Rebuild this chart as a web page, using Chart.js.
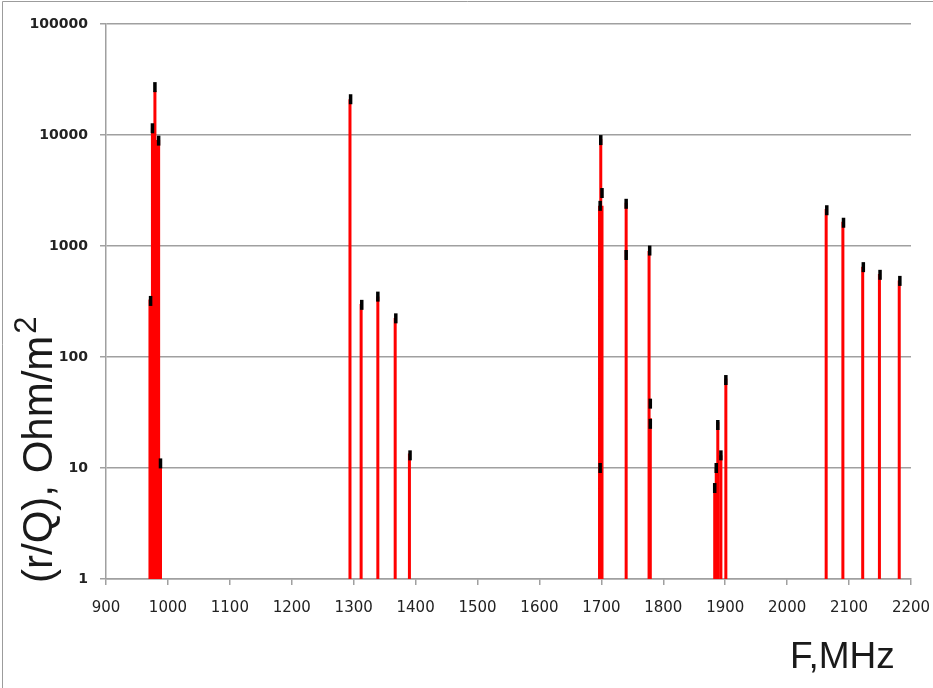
<!DOCTYPE html>
<html>
<head>
<meta charset="utf-8">
<title>r/Q spectrum</title>
<script src="https://cdn.jsdelivr.net/npm/chart.js@4.4.1/dist/chart.umd.min.js"></script>
<style>
  html, body { margin: 0; padding: 0; background: #fff; }
  #wrap { position: relative; width: 933px; height: 688px; }
</style>
</head>
<body>
<div id="wrap"><canvas id="rq-chart" width="933" height="688"></canvas></div>
<script>
// calculated modes (red impulses), MHz and Ohm/m^2
const modeFreq = [971, 975, 979, 982, 985, 988,
  1294, 1312, 1339, 1367, 1390,
  1697, 1699, 1701, 1740, 1777, 1779,
  1883, 1885.5, 1888, 1893, 1901,
  2063, 2090, 2122, 2149, 2181];
const modeRQ = [330, 11500, 25000, 9000, 9000, 11,
  21000, 300, 350, 225, 13.5,
  2300, 9200, 2300, 2450, 900, 28,
  6.5, 10, 26, 13, 64,
  2150, 1650, 650, 560, 490];

// second set of values (black marks)
const markFreq = [972, 975, 979, 985, 988,
  1295, 1313, 1339, 1368, 1391,
  1699, 1701, 1698, 1698,
  1740, 1740, 1778, 1779, 1779,
  1883, 1885.5, 1888, 1893, 1901,
  2064, 2091, 2123, 2150, 2182];
const markRQ = [320, 11500, 27000, 8900, 11,
  21000, 295, 350, 223, 13,
  9000, 3000, 2300, 10,
  2400, 830, 910, 38, 25,
  6.6, 10, 24.4, 13, 62,
  2100, 1620, 645, 550, 485];

const freqTicks = [900, 1000, 1100, 1200, 1300, 1400, 1500, 1600, 1700, 1800, 1900, 2000, 2100, 2200];
const rqTicks = [1, 10, 100, 1000, 10000, 100000];

// every mode is a vertical stroke from the floor up to its value, null breaks the line
const impulses = [];
modeFreq.forEach((f, i) => {
  impulses.push({ x: f, y: 1 }, { x: f, y: modeRQ[i] }, { x: f, y: null });
});
const marks = markFreq.map((f, i) => ({ x: f, y: markRQ[i] }));

const gridGray = '#a0a0a0';

// frame, axis titles and the raised "2"
const decorations = {
  id: 'decorations',
  beforeDraw(chart) {
    const ctx = chart.ctx;
    ctx.save();
    ctx.fillStyle = '#fff';
    ctx.fillRect(0, 0, chart.width, chart.height);
    ctx.strokeStyle = '#9c9c9c';
    ctx.lineWidth = 1;
    ctx.beginPath();
    ctx.moveTo(2.5, chart.height);
    ctx.lineTo(2.5, 1.5);
    ctx.lineTo(chart.width, 1.5);
    ctx.stroke();
    ctx.restore();
  },
  afterDraw(chart) {
    const ctx = chart.ctx;
    ctx.save();
    ctx.fillStyle = '#1a1a1a';
    ctx.textAlign = 'left';
    ctx.textBaseline = 'alphabetic';
    ctx.font = '37px "Liberation Sans", Arial, sans-serif';
    ctx.fillText('F,MHz', 790, 668);

    ctx.translate(52, 583);
    ctx.rotate(-Math.PI / 2);
    ctx.font = '42px "Liberation Sans", Arial, sans-serif';
    const label = '(r/Q), Ohm/m';
    ctx.fillText(label, 0, 0);
    const w = ctx.measureText(label).width;
    ctx.font = '31px "Liberation Sans", Arial, sans-serif';
    ctx.fillText('2', w + 2, -16);
    ctx.restore();
  }
};

new Chart(document.getElementById('rq-chart').getContext('2d'), {
  data: {
    datasets: [
      {
        type: 'scatter',
        data: marks,
        order: 0,
        pointStyle: 'line',
        rotation: 90,
        pointRadius: 5,
        borderWidth: 3.5,
        borderColor: '#000',
        backgroundColor: '#000',
        showLine: false
      },
      {
        type: 'line',
        data: impulses,
        order: 1,
        borderColor: '#ff0000',
        borderWidth: 3,
        borderCapStyle: 'butt',
        pointRadius: 0,
        spanGaps: false,
        tension: 0,
        fill: false
      }
    ]
  },
  options: {
    responsive: false,
    animation: false,
    devicePixelRatio: 1,
    layout: { padding: { left: 0, top: 24, right: 22, bottom: 0 } },
    plugins: { legend: { display: false }, tooltip: { enabled: false } },
    scales: {
      x: {
        type: 'linear',
        min: 900,
        max: 2200,
        afterBuildTicks: s => { s.ticks = freqTicks.map(v => ({ value: v })); },
        afterFit: s => { s.height = 109; s.paddingLeft = 0; s.paddingRight = 0; },
        ticks: {
          callback: v => String(v),
          autoSkip: false,
          maxRotation: 0,
          padding: 14,
          color: '#222',
          font: { family: '"DejaVu Sans", Verdana, sans-serif', size: 15 }
        },
        grid: { drawOnChartArea: false, drawTicks: true, tickLength: 6, color: gridGray, lineWidth: 1.5 },
        border: { color: gridGray, width: 1.5 }
      },
      y: {
        type: 'logarithmic',
        min: 1,
        max: 100000,
        afterBuildTicks: s => { s.ticks = rqTicks.map(v => ({ value: v })); },
        afterFit: s => { s.width = 106; s.paddingTop = 0; s.paddingBottom = 0; },
        ticks: {
          callback: v => String(v),
          padding: 12,
          color: '#222',
          font: { family: '"DejaVu Sans", Verdana, sans-serif', size: 14, weight: 'bold' }
        },
        grid: { color: gridGray, lineWidth: 1.5, tickLength: 6 },
        border: { color: gridGray, width: 1.5 }
      }
    }
  },
  plugins: [decorations]
});
</script>
</body>
</html>
